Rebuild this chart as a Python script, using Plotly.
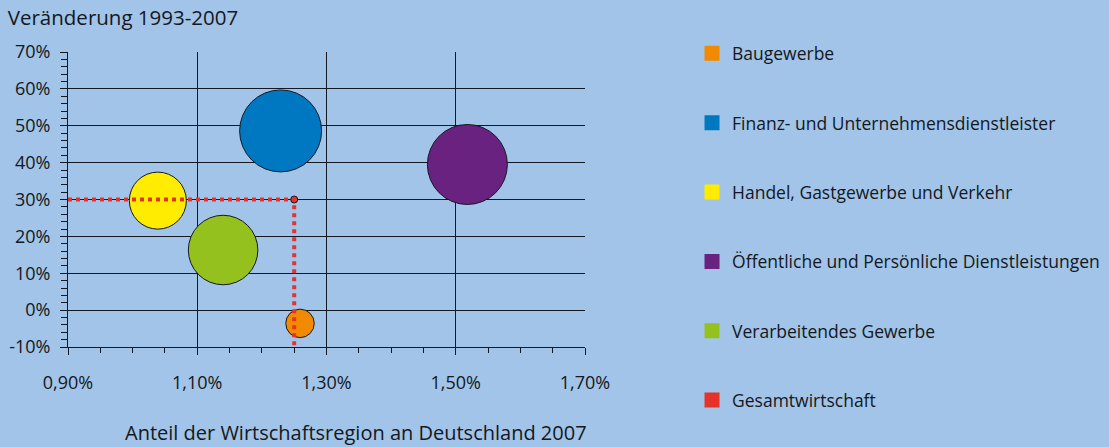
import plotly.graph_objects as go

# ---- data ----
sectors = ["Baugewerbe", "Finanz- und Unternehmensdienstleister", "Handel, Gastgewerbe und Verkehr",
           "Öffentliche und Persönliche Dienstleistungen", "Verarbeitendes Gewerbe"]
share_2007 = [0.01259, 0.01229, 0.01039, 0.01518, 0.01140]      # Anteil an Deutschland 2007
change_93_07 = [-0.036, 0.486, 0.297, 0.395, 0.163]              # Veränderung 1993-2007
bubble_size = [28.5, 82, 57, 80, 69.5]                            # relative bubble size
colors = ["#F18A00", "#0077C1", "#FFEC00", "#6A2280", "#95C11F"]

total_name = "Gesamtwirtschaft"
total_share = 0.0125
total_change = 0.30
total_color = "#E6332A"

x_ticks = [0.009, 0.011, 0.013, 0.015, 0.017]
x_ticktext = ["0,90%", "1,10%", "1,30%", "1,50%", "1,70%"]
y_ticks = [-0.1, 0.0, 0.1, 0.2, 0.3, 0.4, 0.5, 0.6, 0.7]
y_ticktext = ["-10%", "0%", "10%", "20%", "30%", "40%", "50%", "60%", "70%"]

x_min, x_max = 0.009, 0.017
y_min, y_max = -0.1, 0.7

chart_title = "Veränderung 1993-2007"
x_title = "Anteil der Wirtschaftsregion an Deutschland 2007"

bg = "#A2C4E8"
ink = "#141820"
font_family = "'Open Sans', 'Noto Sans', sans-serif"

fig = go.Figure()

# bubbles
for name, x, y, s, c in zip(sectors, share_2007, change_93_07, bubble_size, colors):
    fig.add_trace(go.Scatter(
        x=[x], y=[y], mode="markers", name=name, showlegend=False,
        marker=dict(size=[s], sizemode="diameter", sizeref=1, color=c,
                    opacity=1, line=dict(color=ink, width=1)),
        hoverinfo="name"))

# reference lines for total economy
fig.add_trace(go.Scatter(
    x=[x_min, total_share, total_share], y=[total_change, total_change, y_min],
    mode="lines", showlegend=False, hoverinfo="skip",
    line=dict(color=total_color, width=4, dash="dot")))
fig.add_trace(go.Scatter(
    x=[total_share], y=[total_change], mode="markers", showlegend=False,
    marker=dict(size=7, color=total_color, line=dict(color=ink, width=1)),
    name=total_name))

# legend entries (square swatches)
for i, (name, c) in enumerate(zip(sectors + [total_name], colors + [total_color])):
    fig.add_trace(go.Scatter(
        x=[None], y=[None], mode="markers", name=name, legendgroup=f"g{i}",
        marker=dict(symbol="square", size=15, color=c, line=dict(width=0))))

axis_common = dict(showline=True, linecolor=ink, linewidth=1, showgrid=True, gridcolor=ink,
                   gridwidth=1, zeroline=False, ticks="outside", tickcolor=ink, ticklen=7,
                   tickwidth=1, automargin=False,
                   tickfont=dict(size=18, color=ink, family=font_family))

fig.update_xaxes(range=[x_min, x_max], tickvals=x_ticks, ticktext=x_ticktext,
                 ticklabelstandoff=12,
                 minor=dict(dtick=0.0005, tick0=0.009, ticks="outside", ticklen=5,
                            tickcolor=ink, showgrid=False),
                 **axis_common)
fig.update_yaxes(range=[y_min, y_max], tickvals=y_ticks, ticktext=y_ticktext,
                 ticklabelstandoff=6,
                 minor=dict(dtick=0.02, tick0=-0.1, ticks="outside", ticklen=6,
                            tickcolor=ink, showgrid=False),
                 **axis_common)

fig.add_annotation(text=x_title, xref="paper", yref="paper", x=0.557, y=-0.29,
                   xanchor="center", yanchor="middle", showarrow=False,
                   font=dict(size=20, color=ink, family=font_family))

fig.update_layout(
    width=1109, height=447,
    paper_bgcolor=bg, plot_bgcolor=bg,
    margin=dict(l=68, r=524, t=52, b=100, autoexpand=False),
    font=dict(family=font_family, color=ink, size=18),
    title=dict(text=chart_title, x=0.007, xanchor="left", y=0.96, yanchor="middle",
               font=dict(size=20.5, color=ink, family=font_family)),
    showlegend=True,
    legend=dict(x=1.207, xanchor="left", y=1.056, yanchor="top",
                bgcolor="rgba(0,0,0,0)", tracegroupgap=43.6, itemsizing="trace",
                maxheight=447,
                font=dict(size=17.5, color=ink, family=font_family)),
)

fig.write_html("out.html", config={"displayModeBar": False},
               post_script="document.body.style.margin='0';document.body.style.overflow='hidden';")
